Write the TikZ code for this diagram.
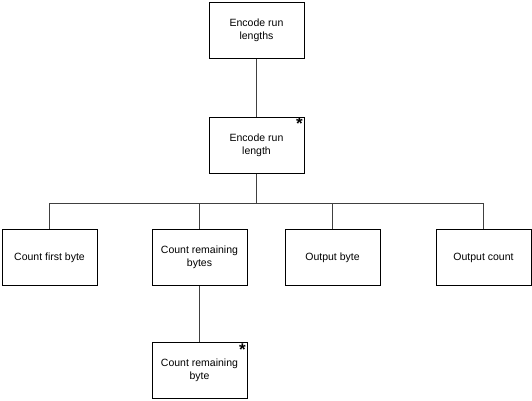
\documentclass[tikz,border=0pt]{standalone}
\usepackage{fontspec}
\setmainfont{Liberation Sans}
\usetikzlibrary{positioning}
\begin{document}
\begin{tikzpicture}[
  x=1pt, y=-1pt,
  block/.style={rectangle, draw, line width=1pt, minimum width=95pt, minimum height=56pt, align=center, inner sep=2pt, font=\fontsize{10.5}{13}\selectfont},
  link/.style={draw=black!75, line width=0.8pt},
  iter/.style={anchor=north east, inner sep=1.5pt, font=\fontsize{17}{17}\selectfont\bfseries}
]
\useasboundingbox (0,0) rectangle (532,400);
\node[block] (enc) at (256.5,30) {Encode run\\lengths};
\node[block, below=58pt of enc] (encone) {Encode run\\length};
\node[block] (first) at (49.5,257.5) {Count first byte};
\node[block] (rem) at (199.5,257.5) {Count remaining\\bytes};
\node[block] (outbyte) at (332.5,257.5) {Output byte};
\node[block] (outcount) at (483.5,257.5) {Output count};
\node[block, below=56pt of rem] (remone) {Count remaining\\byte};

% iteration marks
\node[iter] (iterenc) at (encone.north east) {*};
\node[iter] (iterrem) at (remone.north east) {*};

\draw[link] (enc) -- (encone);
\draw[link] (encone.south) -- ++(0,30) coordinate (bar);
\draw[link] (bar) -| (first);
\draw[link] (bar) -| (rem);
\draw[link] (bar) -| (outbyte);
\draw[link] (bar) -| (outcount);
\draw[link] (rem) -- (remone);
\end{tikzpicture}
\end{document}
